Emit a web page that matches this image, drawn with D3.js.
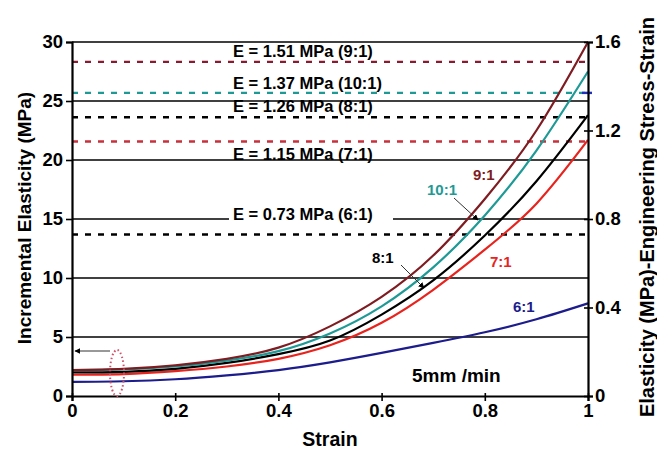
<!DOCTYPE html>
<html>
<head>
<meta charset="utf-8">
<script src="https://cdn.jsdelivr.net/npm/d3@7"></script>
<style>
  body { margin: 0; background: #fff; }
  svg { font-family: "Liberation Sans", Arial, sans-serif; font-weight: bold; }
</style>
</head>
<body>
<div id="chart"></div>
<script>
// values, one per 0.1 strain
const strain = [0, 0.1, 0.2, 0.3, 0.4, 0.5, 0.6, 0.7, 0.8, 0.9, 1];
const series = ["9:1", "10:1", "8:1", "7:1", "6:1"];
const e9 = [2.2, 2.3, 2.6, 3.15, 4.1, 5.9, 8.4, 11.9, 16.7, 22.5, 30];
const e10 = [2.2, 2.25, 2.5, 3.0, 3.8, 5.3, 7.6, 10.9, 15.3, 20.8, 27.5];
const e8 = [2.0, 2.05, 2.3, 2.8, 3.55, 4.7, 6.9, 9.8, 13.6, 18.2, 23.8];
const e7 = [1.8, 1.85, 2.1, 2.5, 3.15, 4.3, 6.2, 9.0, 12.4, 16.3, 21.7];
const e6 = [1.2, 1.25, 1.42, 1.75, 2.2, 2.85, 3.65, 4.5, 5.4, 6.5, 7.85];
const colors = ["#7e1c22", "#1e9a96", "#000000", "#e8231d", "#1c1c8c"];

// E values on the right axis
const eValues = [1.51, 1.37, 1.26, 1.15, 0.73];
const eLabels = ["E = 1.51 MPa (9:1)", "E = 1.37 MPa (10:1)", "E = 1.26 MPa (8:1)", "E = 1.15 MPa (7:1)", "E = 0.73 MPa (6:1)"];
const eColors = ["#8a1a30", "#1e9a96", "#000000", "#c8303c", "#000000"];

const xTicks = [0, 0.2, 0.4, 0.6, 0.8, 1];
const yTicks = [0, 5, 10, 15, 20, 25, 30];
const y2Ticks = [0, 0.4, 0.8, 1.2, 1.6];

const w = 657, h = 453;
const padL = 72, padR = 588, padT = 42, padB = 396;

const svg = d3.select("#chart").append("svg").attr("width", w).attr("height", h);

const x = d3.scaleLinear().domain([0, 1]).range([padL, padR]);
const y = d3.scaleLinear().domain([0, 30]).range([padB, padT]);
const y2 = d3.scaleLinear().domain([0, 1.6]).range([padB, padT]);

// solid grid lines
svg.selectAll(".grid")
  .data(yTicks.slice(1))
  .enter()
  .append("line")
  .attr("x1", padL).attr("x2", padR)
  .attr("y1", d => y(d)).attr("y2", d => y(d))
  .attr("stroke", "#000").attr("stroke-width", 1.6);

// dashed E lines
svg.selectAll(".eline")
  .data(eValues)
  .enter()
  .append("line")
  .attr("x1", padL).attr("x2", padR)
  .attr("y1", d => y2(d)).attr("y2", d => y2(d))
  .attr("stroke", (d, i) => eColors[i])
  .attr("stroke-width", 2.4)
  .attr("stroke-dasharray", "6,7");

// little blue mark at the 10:1 line end
svg.append("line")
  .attr("x1", padR - 6).attr("x2", padR + 4)
  .attr("y1", y2(eValues[1])).attr("y2", y2(eValues[1]))
  .attr("stroke", "#2030c0").attr("stroke-width", 2.4);

// E labels
const eDy = [-5, -4, -5, 18, 0];
eLabels.forEach((t, i) => {
  const ty = y2(eValues[i]) + eDy[i];
  if (i === 4) {
    svg.append("rect")
      .attr("x", 229).attr("y", y(15) - 3).attr("width", 164).attr("height", 6)
      .attr("fill", "#fff");
  }
  svg.append("text")
    .attr("x", 233).attr("y", i === 4 ? y(15) + 1 : ty)
    .attr("font-size", 16.5)
    .attr("fill", "#000")
    .text(t);
});

// curves
const line = d3.line()
  .x(d => x(d[0]))
  .y(d => y(d[1]))
  .curve(d3.curveNatural);
const elasts = [e9, e10, e8, e7, e6];
[4, 3, 2, 1, 0].forEach(i => {
  const pts = strain.map((s, j) => [s, elasts[i][j]]);
  svg.append("path")
    .attr("d", line(pts))
    .attr("fill", "none")
    .attr("stroke", colors[i])
    .attr("stroke-width", 2.2);
});

// axes
const xAxis = d3.axisBottom(x).tickValues(xTicks).tickFormat(d3.format("~g")).tickSize(5).tickPadding(3);
const yAxis = d3.axisLeft(y).tickValues(yTicks).tickSize(6).tickPadding(3);
const y2Axis = d3.axisRight(y2).tickValues(y2Ticks).tickFormat(d3.format("~g")).tickSize(5).tickPadding(2);

const gx = svg.append("g").attr("transform", `translate(0,${padB})`).call(xAxis);
svg.append("g").attr("transform", `translate(${padL},0)`).call(yAxis);
const gy2 = svg.append("g").attr("transform", `translate(${padR},0)`).call(y2Axis);
gx.selectAll(".tick line").attr("y1", -3);
gy2.selectAll(".tick line").attr("x1", -4);

svg.selectAll(".domain").attr("stroke", "#000").attr("stroke-width", 2.2);
svg.selectAll(".tick line").attr("stroke", "#000").attr("stroke-width", 1.6);
svg.selectAll(".tick text")
  .attr("font-size", 18.5)
  .attr("font-weight", "bold")
  .attr("font-family", "Liberation Sans, Arial, sans-serif")
  .attr("fill", "#000");

// axis titles
svg.append("text")
  .attr("x", x(0.5)).attr("y", 446)
  .attr("text-anchor", "middle")
  .attr("font-size", 19.5)
  .text("Strain");
svg.append("text")
  .attr("transform", `translate(31,218) rotate(-90)`)
  .attr("text-anchor", "middle")
  .attr("font-size", 19)
  .text("Incremental Elasticity (MPa)");
svg.append("text")
  .attr("transform", `translate(654,217) rotate(-90)`)
  .attr("text-anchor", "middle")
  .attr("font-size", 20)
  .text("Elasticity (MPa)-Engineering Stress-Strain");

// series labels
const labelX = [473, 427, 372, 490, 513];
const labelY = [180, 195, 263, 267, 312];
series.forEach((s, i) => {
  svg.append("text")
    .attr("x", labelX[i]).attr("y", labelY[i])
    .attr("font-size", 15)
    .attr("fill", colors[i])
    .text(s);
});

svg.append("text")
  .attr("x", 412).attr("y", 382)
  .attr("font-size", 19)
  .text("5mm /min");

// arrows
const defs = svg.append("defs");
defs.append("marker")
  .attr("id", "arr")
  .attr("viewBox", "0 0 10 10")
  .attr("refX", 9).attr("refY", 5)
  .attr("markerWidth", 6).attr("markerHeight", 6)
  .attr("orient", "auto")
  .append("path")
  .attr("d", "M0,0 L10,5 L0,10 z")
  .attr("fill", "#000");

const arrows = [
  [454, 198, 478, 220],
  [401, 265, 424, 288],
  [110, 351, 75, 351]
];
arrows.forEach(a => {
  svg.append("line")
    .attr("x1", a[0]).attr("y1", a[1]).attr("x2", a[2]).attr("y2", a[3])
    .attr("stroke", "#333").attr("stroke-width", 1)
    .attr("marker-end", "url(#arr)");
});

// dotted ellipse
svg.append("ellipse")
  .attr("cx", 117).attr("cy", 373)
  .attr("rx", 7).attr("ry", 23)
  .attr("fill", "none")
  .attr("stroke", "#d0506a")
  .attr("stroke-width", 2)
  .attr("stroke-dasharray", "1.5,2.5");
</script>
</body>
</html>
